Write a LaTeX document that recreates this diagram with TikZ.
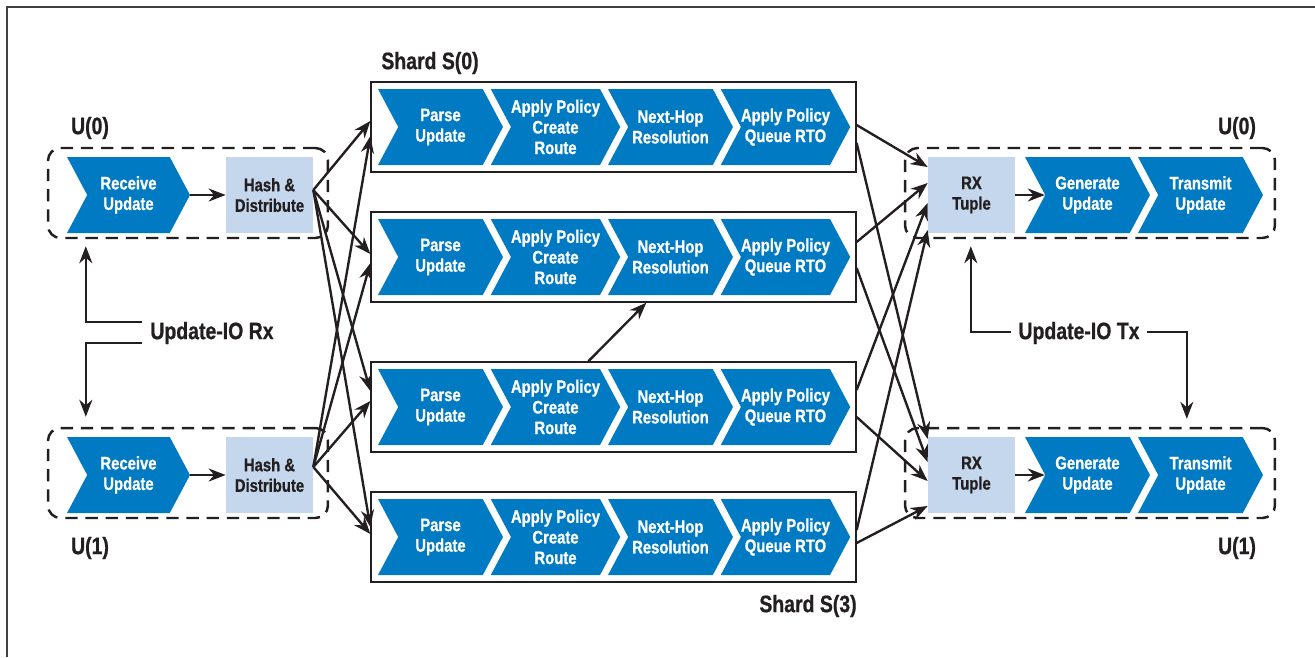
\documentclass[tikz,border=0pt]{standalone}
\usepackage{fontspec}
\setmainfont{Liberation Sans}[FakeStretch=0.82, BoldFeatures={FakeBold=0.8}]
\usetikzlibrary{shapes.symbols,arrows.meta,calc,positioning}

\definecolor{chevblue}{RGB}{0,122,194}
\definecolor{boxblue}{RGB}{197,215,236}
\definecolor{inkgray}{RGB}{35,31,32}

\newcommand\stagefont{\fontsize{10.3}{11.7}\selectfont\bfseries}
\newcommand\labelfont{\fontsize{13.5}{15}\selectfont\bfseries}

\tikzset{
  chev/.style={signal, signal from=west, signal to=east, signal pointer angle=124,
    fill=chevblue, minimum width=2.5cm, minimum height=1.52cm, inner sep=0pt,
    text=white, font=\stagefont, align=center},
  lightbox/.style={fill=boxblue, minimum width=1.74cm, minimum height=1.52cm,
    inner sep=0pt, text=inkgray, font=\stagefont, align=center},
  shardbox/.style={draw=inkgray, line width=0.8pt, minimum width=9.7cm,
    minimum height=1.8cm, inner sep=0pt},
  unitbox/.style={draw=inkgray, line width=1.4pt, dash pattern=on 7pt off 4.5pt,
    rounded corners=0.25cm, minimum height=1.8cm, inner sep=0pt},
  link/.style={draw=inkgray, line width=1.35pt, -{Stealth[length=0.34cm, width=0.26cm]}},
  biglabel/.style={font=\labelfont, text=inkgray, inner sep=0pt},
  framestyle/.style={draw=black!75, line width=1.1pt}
}

\begin{document}
\begin{tikzpicture}[x=0.02cm, y=-0.02cm] % one unit = one pixel of the reference

    \useasboundingbox (0,0) rectangle (1315,657);

    % Outer frame, top and left only
    \draw[framestyle] (1315,7) -- (7,7) -- (7,657);

    % Update units, receive side
    \foreach \u/\y in {0/193,1/473} {
        \node[unitbox, minimum width=5.6cm] (inu\u) at (188,\y) {};
        \node[chev, minimum width=2.46cm] (recv\u) at (128.5,\y+2) {Receive\\Update};
        \node[lightbox] (hash\u) at (269.5,\y+2) {Hash \&\\Distribute};
        \draw[link] (recv\u.east) -- (hash\u.west);
    }

    % Update units, transmit side
    \foreach \u/\y in {0/193,1/473} {
        \node[unitbox, minimum width=7.4cm] (outu\u) at (1090,\y) {};
        \node[lightbox] (rx\u) at (971.5,\y+2) {RX\\Tuple};
        \node[chev] (gen\u) at (1087.5,\y+2) {Generate\\Update};
        \node[chev] (tx\u) at (1200.5,\y+2) {Transmit\\Update};
        \draw[link] (rx\u.east) -- (gen\u.west);
    }

    % Shards
    \foreach \s/\y in {0/127,1/257,2/407,3/537} {
        \node[shardbox] (shard\s) at (613.5,\y) {};
        \node[chev] (parse\s) at (440.5,\y) {Parse\\Update};
        \node[chev] (create\s) at (555.5,\y) {Apply Policy\\Create\\Route};
        \node[chev] (nexthop\s) at (670.5,\y) {Next-Hop\\Resolution};
        \node[chev] (queue\s) at (785.5,\y) {Apply Policy\\Queue RTO};
    }

    % Labels
    \node[biglabel] (lblin0) at (90,128) {U(0)};
    \node[biglabel] (lblin1) at (90,548) {U(1)};
    \node[biglabel] (lblout0) at (1237,128) {U(0)};
    \node[biglabel] (lblout1) at (1237,548) {U(1)};
    \node[biglabel] (lblshard0) at (430,63) {Shard S(0)};
    \node[biglabel] (lblshard3) at (808,606) {Shard S(3)};

    % Hash -> shards
    \foreach \s/\a/\b in {0/-6/9, 1/-3/6, 2/-16/-6, 3/-10/-3} {
        \draw[link] ($(hash0.east)+(0,-5)$) -- ($(shard\s.west)+(0,\a)$);
        \draw[link] ($(hash1.east)+(0,-8)$) -- ($(shard\s.west)+(0,\b)$);
    }

    % Shards -> RX tuple
    \foreach \s/\a/\b/\c/\d in {0/-2/16/-28/-36, 1/-15/11/-12/-13, 2/-17/10/8/6, 3/-7/6/35/31} {
        \draw[link] ($(shard\s.east)+(0,\a)$) -- ($(rx0.west)+(0,\c)$);
        \draw[link] ($(shard\s.east)+(0,\b)$) -- ($(rx1.west)+(0,\d)$);
    }

    % Shard 2 -> shard 1
    \draw[link] ($(shard2.north west)+(218,0)$) -- ($(shard1.south west)+(276,0)$);

    % Update-IO
    \node[biglabel] (iorx) at (212,333) {Update-IO Rx};
    \draw[link] ($(iorx.west)+(-8,-11)$) -| ($(inu0.south west)+(39,7)$);
    \draw[link] ($(iorx.west)+(-8,10)$) -| ($(inu1.north west)+(39,-10)$);

    \node[biglabel] (iotx) at (1079,333) {Update-IO Tx};
    \draw[link] ($(iotx.west)+(-7,-1)$) -| ($(outu0.south west)+(67,7)$);
    \draw[link] ($(iotx.east)+(7,-1)$) -| ($(outu1.north west)+(283,-8)$);

\end{tikzpicture}
\end{document}
